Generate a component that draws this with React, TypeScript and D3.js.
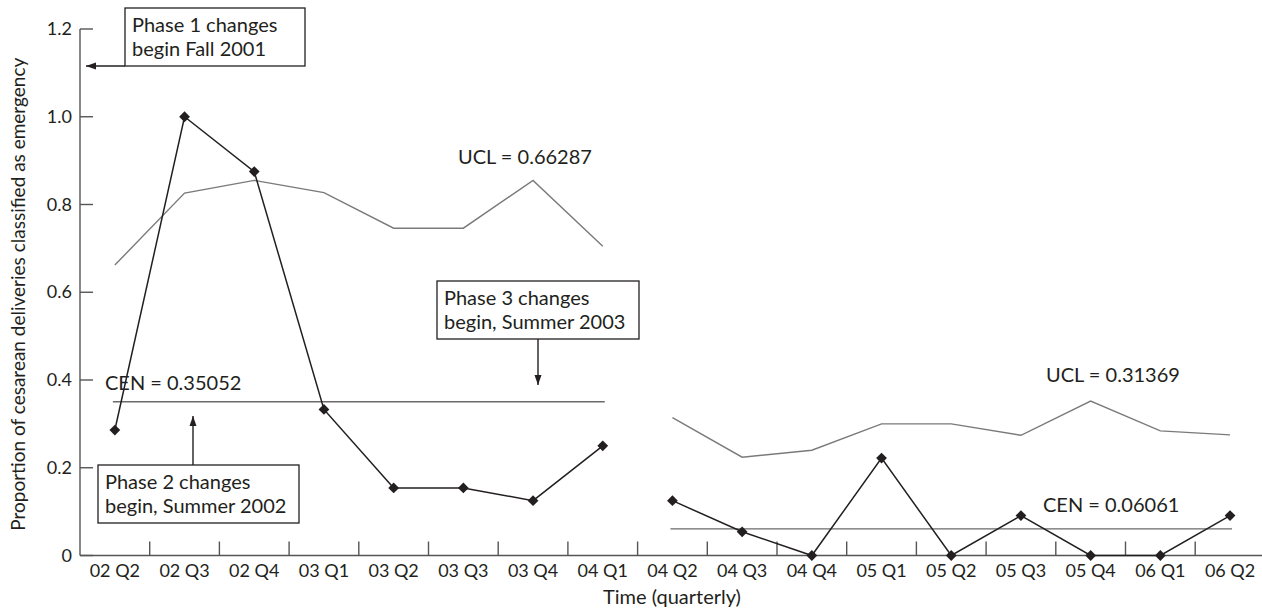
import * as d3 from 'd3';

const quarters = [
  '02 Q2', '02 Q3', '02 Q4', '03 Q1', '03 Q2', '03 Q3', '03 Q4', '04 Q1',
  '04 Q2', '04 Q3', '04 Q4', '05 Q1', '05 Q2', '05 Q3', '05 Q4', '06 Q1', '06 Q2',
];

// before / after the phase 3 changes
const phase1Quarters = quarters.slice(0, 8);
const phase2Quarters = quarters.slice(8);

const phase1Prop = [0.286, 1.0, 0.875, 0.333, 0.154, 0.154, 0.125, 0.25];
const phase1Ucl = [0.662, 0.826, 0.855, 0.827, 0.746, 0.746, 0.855, 0.705];
const phase1Cen = 0.35052;

const phase2Prop = [0.125, 0.054, 0, 0.222, 0, 0.091, 0, 0, 0.091];
const phase2Ucl = [0.314, 0.224, 0.24, 0.30, 0.30, 0.274, 0.352, 0.284, 0.275];
const phase2Cen = 0.06061;

const yTicks = [0, 0.2, 0.4, 0.6, 0.8, 1.0, 1.2];

const W = 1262;
const H = 613;
const FONT = 'Lato, "Noto Sans", sans-serif';
const INK = '#231f20';

const x = d3.scaleBand<string>().domain(quarters).range([80, 80 + 17 * 69.7]);
const y = d3.scaleLinear().domain([0, 1.2]).range([555.5, 29]);
const cx = (q: string) => (x(q) ?? 0) + x.bandwidth() / 2;

const diamond = d3.symbol().type(d3.symbolSquare).size(58)();

function Series({ qs, prop, ucl, cen }: { qs: string[]; prop: number[]; ucl: number[]; cen: number }) {
  const line = d3.line<number>().x((_, i) => cx(qs[i])).y(d => y(d));
  return (
    <g>
      <path d={line(ucl) ?? ''} fill="none" stroke="#7a7a7a" strokeWidth={1.4} />
      <line x1={cx(qs[0]) - 2} x2={cx(qs[qs.length - 1]) + 2} y1={y(cen)} y2={y(cen)} stroke="#6a6a6a" strokeWidth={1.4} />
      <path d={line(prop) ?? ''} fill="none" stroke={INK} strokeWidth={1.5} />
      {prop.map((v, i) => (
        <path key={i} d={diamond} fill={INK} transform={`translate(${cx(qs[i])},${y(v)}) rotate(45)`} />
      ))}
    </g>
  );
}

function Note({ x0, y0, w, h, lines }: { x0: number; y0: number; w: number; h: number; lines: string[] }) {
  return (
    <g>
      <rect x={x0} y={y0} width={w} height={h} fill="#fff" stroke={INK} strokeWidth={1.3} />
      {lines.map((t, i) => (
        <text key={i} x={x0 + 7} y={y0 + 24 + i * 24} fontSize={20}>{t}</text>
      ))}
    </g>
  );
}

export default function App() {
  const boundaries = quarters.slice(1).map(q => x(q) ?? 0);
  return (
    <svg width={W} height={H} style={{ position: 'absolute', left: 0, top: 0, background: '#fff' }}
      fontFamily={FONT} fill={INK}>
      <defs>
        <marker id="ah" viewBox="0 0 10 10" refX="10" refY="5" markerWidth="10" markerHeight="10"
          markerUnits="userSpaceOnUse" orient="auto">
          <path d="M0,1.5 L10,5 L0,8.5 Z" fill={INK} />
        </marker>
      </defs>

      {/* y axis */}
      <line x1={80} x2={80} y1={y(1.2)} y2={y(0)} stroke="#555" strokeWidth={1.4} />
      {yTicks.map(t => (
        <g key={t}>
          <line x1={80} x2={93} y1={y(t)} y2={y(t)} stroke="#555" strokeWidth={1.4} />
          <text x={72} y={y(t) + 6} textAnchor="end" fontSize={18}>{t === 0 ? '0' : d3.format('.1f')(t)}</text>
        </g>
      ))}
      <text transform={`translate(25,${(y(1.2) + y(0)) / 2 + 2}) rotate(-90)`} textAnchor="middle" fontSize={19}>
        Proportion of cesarean deliveries classified as emergency
      </text>

      {/* x axis */}
      <line x1={80} x2={W} y1={y(0)} y2={y(0)} stroke="#555" strokeWidth={1.4} />
      {boundaries.map((b, i) => (
        <line key={i} x1={b} x2={b} y1={y(0) - 14} y2={y(0)} stroke="#555" strokeWidth={1.4} />
      ))}
      {quarters.map(q => (
        <text key={q} x={cx(q)} y={577} textAnchor="middle" fontSize={18}>{q}</text>
      ))}
      <text x={672} y={604} textAnchor="middle" fontSize={20}>Time (quarterly)</text>

      <Series qs={phase1Quarters} prop={phase1Prop} ucl={phase1Ucl} cen={phase1Cen} />
      <Series qs={phase2Quarters} prop={phase2Prop} ucl={phase2Ucl} cen={phase2Cen} />

      <text x={458} y={164} fontSize={20}>UCL = 0.66287</text>
      <text x={105} y={390} fontSize={20}>CEN = 0.35052</text>
      <text x={1046} y={382} fontSize={20}>UCL = 0.31369</text>
      <text x={1043} y={512} fontSize={20}>CEN = 0.06061</text>

      {/* phase notes */}
      <Note x0={125} y0={8} w={180} h={58} lines={['Phase 1 changes', 'begin Fall 2001']} />
      <line x1={125} x2={86} y1={66} y2={66} stroke={INK} strokeWidth={1.4} markerEnd="url(#ah)" />

      <Note x0={98} y0={465} w={201} h={58} lines={['Phase 2 changes', 'begin, Summer 2002']} />
      <line x1={193} x2={193} y1={465} y2={416} stroke={INK} strokeWidth={1.4} markerEnd="url(#ah)" />

      <Note x0={437} y0={281} w={202} h={58} lines={['Phase 3 changes', 'begin, Summer 2003']} />
      <line x1={538} x2={538} y1={339} y2={385} stroke={INK} strokeWidth={1.4} markerEnd="url(#ah)" />
    </svg>
  );
}
